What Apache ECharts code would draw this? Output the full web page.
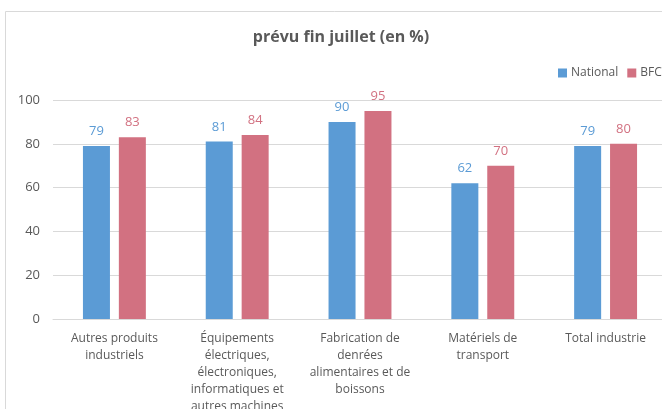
<!DOCTYPE html>
<html><head><meta charset="utf-8">
<script src="https://cdn.jsdelivr.net/npm/echarts@6/dist/echarts.min.js"></script>
<style>html,body{margin:0;padding:0;background:#fff}#c{width:662px;height:409px}</style>
</head><body><div id="c"></div>
<script>
const categories = [
  "Autres produits\nindustriels",
  "Équipements\nélectriques,\nélectroniques,\ninformatiques et\nautres machines",
  "Fabrication de\ndenrées\nalimentaires et de\nboissons",
  "Matériels de\ntransport",
  "Total industrie"
];
const national = [79, 81, 90, 62, 79];
const bfc = [83, 84, 95, 70, 80];
const yTicks = { min: 0, max: 100, interval: 20 };

const font = "'Open Sans', 'Noto Sans', sans-serif";
const chart = echarts.init(document.getElementById('c'), null, { renderer: 'canvas' });
chart.setOption({
  animation: false,
  textStyle: { fontFamily: font },
  graphic: [{
    type: 'rect', shape: { x: 5.5, y: 11.5, width: 720, height: 460 },
    style: { fill: 'none', stroke: '#d9d9d9', lineWidth: 1 }, z: -1
  }],
  title: {
    text: 'prévu fin juillet (en %)', left: 336, top: 24, textAlign: 'center',
    textStyle: { fontFamily: font, fontSize: 16, fontWeight: 'bold', color: '#595959' }
  },
  legend: {
    left: 553, top: 62, width: 300, orient: 'horizontal', itemWidth: 9, itemHeight: 9, itemGap: 9,
    icon: 'rect',
    textStyle: { fontFamily: font, fontSize: 12, color: '#595959', padding: [0, 0, 0, -1] },
    data: ['National', 'BFC']
  },
  grid: { left: 53, width: 614, top: 100, bottom: 90, containLabel: false, outerBoundsMode: 'none' },
  xAxis: {
    type: 'category', data: categories,
    axisLine: { lineStyle: { color: '#d9d9d9' } },
    axisTick: { show: false },
    axisLabel: { interval: 0, color: '#595959', fontFamily: font, fontSize: 12, lineHeight: 17, margin: 11 }
  },
  yAxis: {
    type: 'value', min: yTicks.min, max: yTicks.max, interval: yTicks.interval,
    axisLine: { show: false }, axisTick: { show: false },
    splitLine: { lineStyle: { color: '#d9d9d9' } },
    axisLabel: { color: '#595959', fontFamily: font, fontSize: 13, margin: 13 }
  },
  series: [
    {
      name: 'National', type: 'bar', data: national, barWidth: 27, barGap: '33%',
      itemStyle: { color: '#5b9bd5' },
      label: { show: true, position: 'top', distance: 8, color: '#5b9bd5', fontFamily: font, fontSize: 13 }
    },
    {
      name: 'BFC', type: 'bar', data: bfc, barWidth: 27,
      itemStyle: { color: '#d27181' },
      label: { show: true, position: 'top', distance: 8, color: '#d27181', fontFamily: font, fontSize: 13 }
    }
  ]
});
</script></body></html>
